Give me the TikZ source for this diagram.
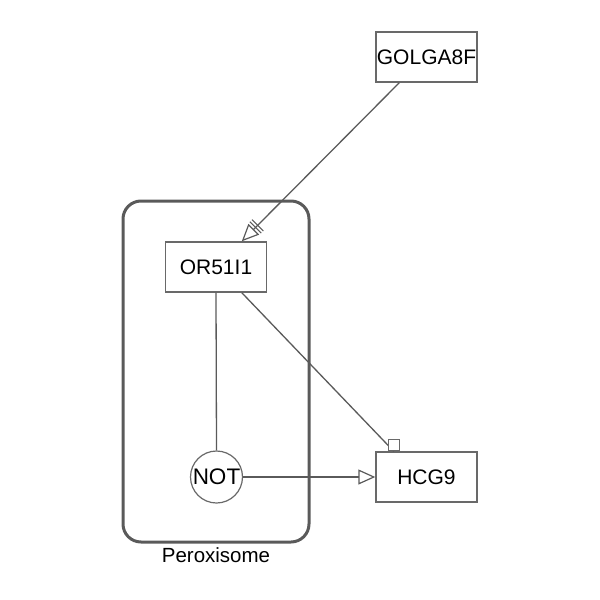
\documentclass[tikz,border=0pt]{standalone}
\usepackage{fontspec}
\setmainfont{Liberation Sans}
\usetikzlibrary{calc,arrows.meta}
\definecolor{boxgray}{RGB}{105,105,105}
\definecolor{linegray}{RGB}{90,90,90}
\definecolor{compgray}{RGB}{90,90,90}
\tikzset{
  gene/.style={draw=boxgray, line width=1.4pt, fill=white, rectangle, minimum width=101pt, minimum height=50pt, inner sep=0pt, font=\fontsize{21}{25}\selectfont},
  notnode/.style={draw=boxgray, line width=1.2pt, fill=white, circle, minimum size=52pt, inner sep=0pt, font=\fontsize{22.5}{26}\selectfont},
  comp/.style={draw=compgray, line width=3pt, rectangle, rounded corners=18pt, minimum width=186pt, minimum height=341pt, inner sep=0pt},
  conn/.style={draw=linegray, line width=1.3pt},
  opentri/.style={-{Triangle[open,length=17pt,width=15pt,line width=1.2pt]}},
  lab/.style={font=\fontsize{20.5}{24}\selectfont, inner sep=0pt}
}
\begin{document}
\begin{tikzpicture}[x=1pt,y=-1pt]
\useasboundingbox (0,0) rectangle (600,600);
\node[comp] (perox) at (216,371.5) {};
\node[lab, anchor=base] (peroxlab) at (216,562) {Peroxisome};
\node[gene] (golga) at (426.5,57) {GOLGA8F};
\node[gene] (or) at (216,267) {OR51I1};
\node[gene] (hcg) at (426.5,477) {HCG9};
\node[notnode] (not) at (216.5,477) {NOT};
% GOLGA8F -> OR51I1
\coordinate (gs) at ($(golga.south west)+(24,0)$);
\coordinate (ot) at ($(or.north west)+(77,0)$);
\draw[conn, opentri] (gs) -- (ot);
\coordinate (b1) at ($(ot)!19.5pt!(gs)$);
\coordinate (b2) at ($(ot)!22.5pt!(gs)$);
\draw[conn, line width=1.1pt] ($(b1)!8pt!90:(gs)$) -- ($(b1)!8pt!-90:(gs)$);
\draw[conn, line width=1.1pt] ($(b2)!8pt!90:(gs)$) -- ($(b2)!8pt!-90:(gs)$);
% OR51I1 -> NOT
\draw[conn] (or.south) -- (not.north);
% NOT -> HCG9
\draw[conn, opentri] (not.east) -- (hcg.west);
% OR51I1 -> HCG9 (square end)
\coordinate (os) at ($(or.south west)+(77,0)$);
\coordinate (ht) at ($(hcg.north west)+(18.5,0)$);
\draw[conn] (os) -- (ht);
\node[draw=boxgray, line width=1.2pt, fill=white, minimum size=11pt, inner sep=0pt, anchor=south] (sq) at (ht) {};
\end{tikzpicture}
\end{document}
